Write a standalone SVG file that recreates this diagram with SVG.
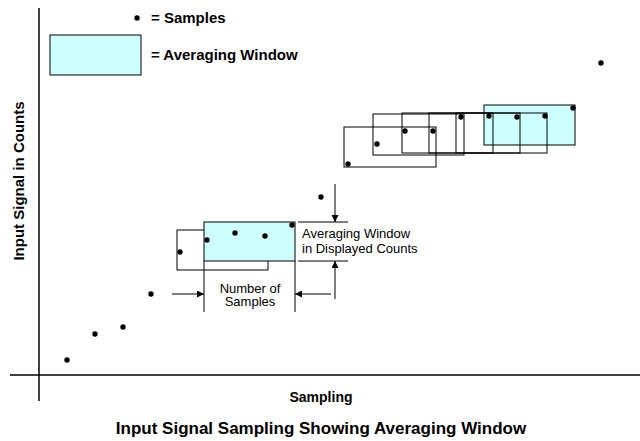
<svg xmlns="http://www.w3.org/2000/svg" width="640" height="441" viewBox="0 0 640 441">
<style>
.ax{stroke:#000;stroke-width:1.5;fill:none}
.win{fill:none;stroke:#000;stroke-width:1}
.cyan{fill:#ccffff;stroke:#000;stroke-width:1}
.dot{fill:#000}
.ln{stroke:#000;stroke-width:1;fill:none}
.b{font-family:"Liberation Sans",Arial,sans-serif;font-weight:bold;fill:#000}
.r{font-family:"Liberation Sans",Arial,sans-serif;fill:#000}
</style>
<defs>
<marker id="ah" viewBox="0 0 10 10" refX="10" refY="5" markerWidth="11" markerHeight="7" markerUnits="userSpaceOnUse" orient="auto">
<path d="M0,0 L10,5 L0,10 Z" fill="#000"/>
</marker>
</defs>
<rect width="640" height="441" fill="#fff"/>
<g id="axes">
<line class="ax" x1="39" y1="8" x2="39" y2="401"/>
<line class="ax" x1="10" y1="375" x2="640" y2="375"/>
<text class="b" font-size="15" transform="translate(24,181) rotate(-90)" text-anchor="middle">Input Signal in Counts</text>
<text class="b" font-size="14" x="321" y="402" text-anchor="middle">Sampling</text>
</g>
<g id="legend">
<circle class="dot" cx="137" cy="18" r="2.7"/>
<text class="b" font-size="15" x="151" y="23">= Samples</text>
<rect class="cyan" x="50" y="35" width="91" height="40"/>
<text class="b" font-size="15" x="151" y="60">= Averaging Window</text>
</g>
<g id="window-low">
<rect class="win" x="177" y="230" width="91" height="40"/>
<rect class="cyan" x="204" y="222" width="91" height="39"/>
</g>
<g id="window-high">
<rect class="cyan" x="484" y="105" width="91" height="40"/>
<rect class="win" x="344" y="127" width="92" height="40"/>
<rect class="win" x="373" y="114" width="91" height="41"/>
<rect class="win" x="402" y="113" width="91" height="40" stroke="#666" stroke-width="1.6"/>
<rect class="win" x="429" y="113" width="91" height="40" stroke-width="1.8"/>
<rect class="win" x="456" y="113" width="91" height="40"/>
</g>
<g id="samples">
<circle class="dot" cx="67" cy="360" r="2.7"/>
<circle class="dot" cx="95" cy="334" r="2.7"/>
<circle class="dot" cx="123" cy="327" r="2.7"/>
<circle class="dot" cx="151" cy="294" r="2.7"/>
<circle class="dot" cx="180" cy="252" r="2.7"/>
<circle class="dot" cx="207" cy="240" r="2.7"/>
<circle class="dot" cx="235" cy="233" r="2.7"/>
<circle class="dot" cx="265" cy="236" r="2.7"/>
<circle class="dot" cx="292" cy="225" r="2.7"/>
<circle class="dot" cx="321" cy="197" r="2.7"/>
<circle class="dot" cx="348" cy="164" r="2.7"/>
<circle class="dot" cx="377" cy="144" r="2.7"/>
<circle class="dot" cx="405" cy="131" r="2.7"/>
<circle class="dot" cx="433" cy="131" r="2.7"/>
<circle class="dot" cx="461" cy="117" r="2.7"/>
<circle class="dot" cx="489" cy="116" r="2.7"/>
<circle class="dot" cx="517" cy="117" r="2.7"/>
<circle class="dot" cx="545" cy="116" r="2.7"/>
<circle class="dot" cx="573" cy="108" r="2.7"/>
<circle class="dot" cx="601" cy="63" r="2.7"/>
</g>
<g id="connectors">
<line class="ln" x1="204" y1="261" x2="204" y2="312"/>
<line class="ln" x1="295" y1="261" x2="295" y2="312"/>
<line class="ln" x1="172" y1="294" x2="204" y2="294" marker-end="url(#ah)"/>
<line class="ln" x1="331" y1="294" x2="295" y2="294" marker-end="url(#ah)"/>
<line class="ln" x1="298" y1="222" x2="348" y2="222"/>
<line class="ln" x1="298" y1="261" x2="348" y2="261"/>
<line class="ln" x1="335" y1="184" x2="335" y2="222" marker-end="url(#ah)"/>
<line class="ln" x1="335" y1="299" x2="335" y2="261" marker-end="url(#ah)"/>
</g>
<g id="labels">
<text class="r" font-size="13" x="250" y="292.5" text-anchor="middle">Number of</text>
<text class="r" font-size="13" x="250" y="306" text-anchor="middle">Samples</text>
<text class="r" font-size="13" x="302" y="238">Averaging Window</text>
<text class="r" font-size="13" x="302" y="253">in Displayed Counts</text>
</g>
<g id="title">
<text class="b" font-size="17" x="321" y="434" text-anchor="middle">Input Signal Sampling Showing Averaging Window</text>
</g>
</svg>
